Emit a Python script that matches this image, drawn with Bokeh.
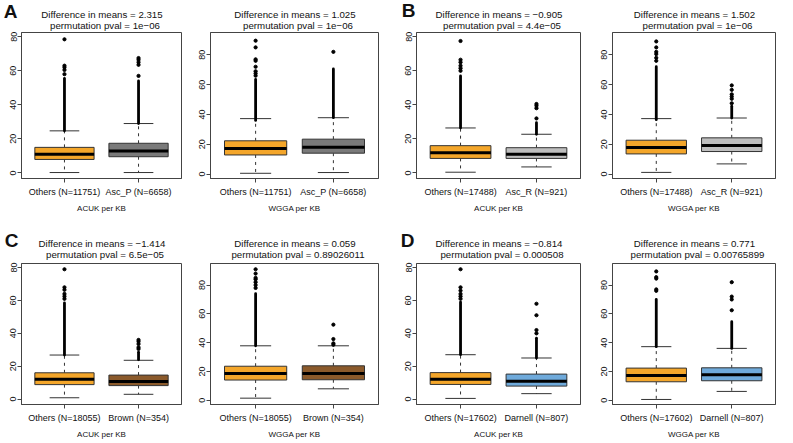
from bokeh.plotting import figure
from bokeh.layouts import row, column
from bokeh.models import FixedTicker, Range1d, Div
from bokeh.embed import file_html
from bokeh.resources import INLINE

# ---------------- data ----------------
panel_letters = ["A", "B", "C", "D"]
others_labels = ["Others (N=11751)", "Others (N=17488)", "Others (N=18055)", "Others (N=17602)"]
group_labels = ["Asc_P (N=6658)", "Asc_R (N=921)", "Brown (N=354)", "Darnell (N=807)"]
group_colors = ["#7A7A7A", "#BEBEBE", "#8B5A2B", "#6FAADB"]
others_color = "#F4A62A"

acuk_diff = ["2.315", "\u22120.905", "\u22121.414", "\u22120.814"]
acuk_pval = ["1e\u221206", "4.4e\u221205", "6.5e\u221205", "0.000508"]
wgga_diff = ["1.025", "1.502", "0.059", "0.771"]
wgga_pval = ["1e\u221206", "1e\u221206", "0.89026011", "0.00765899"]

# five-number summaries: [lower whisker, Q1, median, Q3, upper whisker]
acuk_others_stats = [[0.2, 7.9, 11.0, 15.0, 24.7], [0.4, 8.5, 11.8, 16.0, 26.4],
                     [0.8, 8.8, 12.1, 16.0, 26.8], [0.4, 8.9, 12.0, 16.1, 27.0]]
acuk_group_stats = [[0.2, 9.5, 12.8, 17.4, 29.0], [3.5, 8.5, 11.0, 14.8, 22.7],
                    [2.9, 8.2, 10.7, 14.6, 23.6], [3.3, 7.9, 10.8, 15.2, 25.0]]
wgga_others_stats = [[0.5, 12.8, 17.1, 22.3, 37.2], [1.1, 13.5, 17.8, 22.7, 37.2],
                     [1.4, 14.0, 18.5, 23.6, 37.8], [0.5, 12.8, 17.1, 22.3, 37.2]]
wgga_group_stats = [[1.0, 14.0, 18.0, 23.4, 37.8], [6.8, 15.1, 19.1, 24.3, 37.6],
                    [7.9, 14.2, 18.5, 23.9, 37.8], [6.1, 13.5, 17.6, 22.5, 36.0]]

# dense runs of outliers (from, to); None = no dense run
acuk_others_band = [[24.7, 55.5], [26.4, 57.0], [26.8, 58.5], [27.0, 59.0]]
acuk_group_band = [[29.0, 54.0], [22.7, 29.5], [24.0, 28.5], [25.0, 37.0]]
wgga_others_band = [[36.0, 63.5], [36.5, 72.0], [37.8, 74.0], [37.2, 70.0]]
wgga_group_band = [[37.8, 70.5], [37.6, 45.5], None, [36.0, 54.5]]

# separate outliers
acuk_others_pts = [[58, 60.5, 62, 63, 78.5], [60, 61.5, 63, 65, 66.5, 77.5],
                   [61, 62.5, 64, 66.5, 68, 79], [61, 62.5, 64, 66, 68, 79]]
acuk_group_pts = [[57, 63.5, 65, 66.5, 67.5], [32, 38, 39.5, 40.5],
                  [30.5, 31.5, 33.5, 35, 36], [40, 42, 51, 58]]
wgga_others_pts = [[66, 67.5, 69, 72, 76, 77, 85, 89.5], [76, 78, 80.5, 82, 85, 89],
                   [78, 80, 82, 84, 85, 88, 91], [76, 77, 84.5, 85.5, 89.5]]
wgga_group_pts = [[82], [47.5, 50.5, 52, 53.5, 56.5, 59.5],
                  [38.5, 39.5, 42.5, 52.5], [62.5, 70, 72, 82]]

y_ticks = [0, 20, 40, 60, 80]
acuk_range = (-3.3, 82.5)
wgga_range = (-3.0, 95.0)
x_positions = [1, 2]

FONT = "Liberation Sans"
LINE = "#333333"


def make_panel(idx, metric, fw, fh, bl, br, bt, bb):
    if metric == "ACUK":
        so, sg = acuk_others_stats[idx], acuk_group_stats[idx]
        bo, bg = acuk_others_band[idx], acuk_group_band[idx]
        po, pg = acuk_others_pts[idx], acuk_group_pts[idx]
        yr = acuk_range
    else:
        so, sg = wgga_others_stats[idx], wgga_group_stats[idx]
        bo, bg = wgga_others_band[idx], wgga_group_band[idx]
        po, pg = wgga_others_pts[idx], wgga_group_pts[idx]
        yr = wgga_range

    p = figure(width=bl + fw + br, height=bt + fh + bb, title=None,
               x_range=Range1d(0.42, 2.58), y_range=Range1d(*yr),
               min_border_left=bl, min_border_right=br,
               min_border_top=bt, min_border_bottom=bb,
               output_backend="svg", toolbar_location=None, tools="")
    p.xgrid.visible = False
    p.ygrid.visible = False
    p.outline_line_color = "#444444"
    p.outline_line_width = 1
    p.background_fill_color = "white"
    p.border_fill_color = "white"

    stats = [so, sg]
    xs = x_positions
    lo = [s[0] for s in stats]
    q1 = [s[1] for s in stats]
    med = [s[2] for s in stats]
    q3 = [s[3] for s in stats]
    hi = [s[4] for s in stats]
    colors = [others_color, group_colors[idx]]

    p.segment(x0=xs, x1=xs, y0=q3, y1=hi, line_color=LINE, line_width=1, line_dash="3 4")
    p.segment(x0=xs, x1=xs, y0=q1, y1=lo, line_color=LINE, line_width=1, line_dash="3 4")
    p.segment(x0=[x - 0.2 for x in xs], x1=[x + 0.2 for x in xs], y0=hi, y1=hi,
              line_color=LINE, line_width=1)
    p.segment(x0=[x - 0.2 for x in xs], x1=[x + 0.2 for x in xs], y0=lo, y1=lo,
              line_color=LINE, line_width=1)
    p.vbar(x=xs, width=0.8, bottom=q1, top=q3, fill_color=colors, line_color=LINE, line_width=1)
    p.segment(x0=[x - 0.4 for x in xs], x1=[x + 0.4 for x in xs], y0=med, y1=med,
              line_color="black", line_width=3)
    for x, band, pts in zip(xs, [bo, bg], [po, pg]):
        if band is not None:
            p.segment(x0=[x], x1=[x], y0=[band[0]], y1=[band[1]],
                      line_color="black", line_width=2.8, line_cap="round")
        p.scatter(x=[x] * len(pts), y=pts, size=3.2, color="black", marker="circle")

    p.xaxis.ticker = FixedTicker(ticks=xs)
    p.xaxis.major_label_overrides = {1: others_labels[idx], 2: group_labels[idx]}
    p.xaxis.major_tick_out = 4
    p.xaxis.major_tick_in = 0
    p.xaxis.minor_tick_line_color = None
    p.xaxis.axis_line_color = "#444444"
    p.xaxis.major_tick_line_color = "#444444"
    p.xaxis.major_label_standoff = 4
    p.xaxis.major_label_text_font = FONT
    p.xaxis.major_label_text_font_size = "9px"
    p.xaxis.major_label_text_color = "#111111"
    p.xaxis.axis_label = metric + " per KB"
    p.xaxis.axis_label_text_font = FONT
    p.xaxis.axis_label_text_font_size = "8px"
    p.xaxis.axis_label_text_font_style = "normal"
    p.xaxis.axis_label_standoff = 4
    p.xaxis.axis_label_text_color = "#111111"

    p.yaxis.ticker = FixedTicker(ticks=y_ticks)
    p.yaxis.major_label_orientation = "vertical"
    p.yaxis.major_tick_out = 4
    p.yaxis.major_tick_in = 0
    p.yaxis.minor_tick_line_color = None
    p.yaxis.axis_line_color = "#444444"
    p.yaxis.major_tick_line_color = "#444444"
    p.yaxis.major_label_standoff = 1
    p.yaxis.major_label_text_font = FONT
    p.yaxis.major_label_text_font_size = "9px"
    p.yaxis.major_label_text_color = "#111111"
    return p


def span(text, cx, baseline_above_bottom, height, size, bold=False):
    top = height - baseline_above_bottom - 0.8465 * size
    weight = "bold" if bold else "normal"
    return ('<span style="position:absolute;left:%.1fpx;top:%.1fpx;transform:translateX(-50%%);'
            'white-space:nowrap;font-size:%.1fpx;line-height:1;font-weight:%s;">%s</span>'
            % (cx, top, size, weight, text))


def make_header(idx, metric, width, height, bl, fw, off1, off2, letter_pos):
    if metric == "ACUK":
        diff, pv = acuk_diff[idx], acuk_pval[idx]
    else:
        diff, pv = wgga_diff[idx], wgga_pval[idx]
    parts = [span("Difference in means = " + diff, bl + fw / 2 + 1, off1, height, 9.7),
             span("permutation pval = " + pv, bl + fw / 2 + 4, off2, height, 9.7)]
    if letter_pos is not None:
        parts.append(span(panel_letters[idx], bl + letter_pos[0], letter_pos[1], height, 19, bold=True))
    html = ('<div style="position:relative;width:%dpx;height:%dpx;overflow:visible;'
            'font-family:\'Liberation Sans\';color:#111111;">%s</div>'
            % (width, height, "".join(parts)))
    return Div(text=html, width=width, height=height, margin=0)


# column geometry: (border_left, frame_width, border_right)
cols = [(21, 160, 11), (18, 168, 14), (24, 164, 12), (20, 163, 2)]
# row geometry: (header height, frame_height, border_bottom, title baselines above header bottom)
rows_geo = [(31, 146, 53, (12.6, 1.6)), (31, 145, 33, (14.6, 3.6))]
letter_dy = [13.0, 14.3, 15.3, 15.3]
letter_dx = [-10.4, -7.3, -9.5, -8.5]

grid_rows = []
for r, (hh, fh, bb, t_off) in enumerate(rows_geo):
    cells = []
    for c, (bl, fw, br) in enumerate(cols):
        idx = r * 2 + c // 2
        metric = "ACUK" if c % 2 == 0 else "WGGA"
        letter_pos = (letter_dx[idx], letter_dy[idx]) if c % 2 == 0 else None
        head = make_header(idx, metric, bl + fw + br, hh, bl, fw, t_off[0], t_off[1], letter_pos)
        body = make_panel(idx, metric, fw, fh, bl, br, 1, bb)
        cells.append(column(head, body, spacing=0))
    grid_rows.append(row(*cells, spacing=0))

layout = column(*grid_rows, spacing=0)
open("out.html", "w").write(file_html(layout, INLINE))
